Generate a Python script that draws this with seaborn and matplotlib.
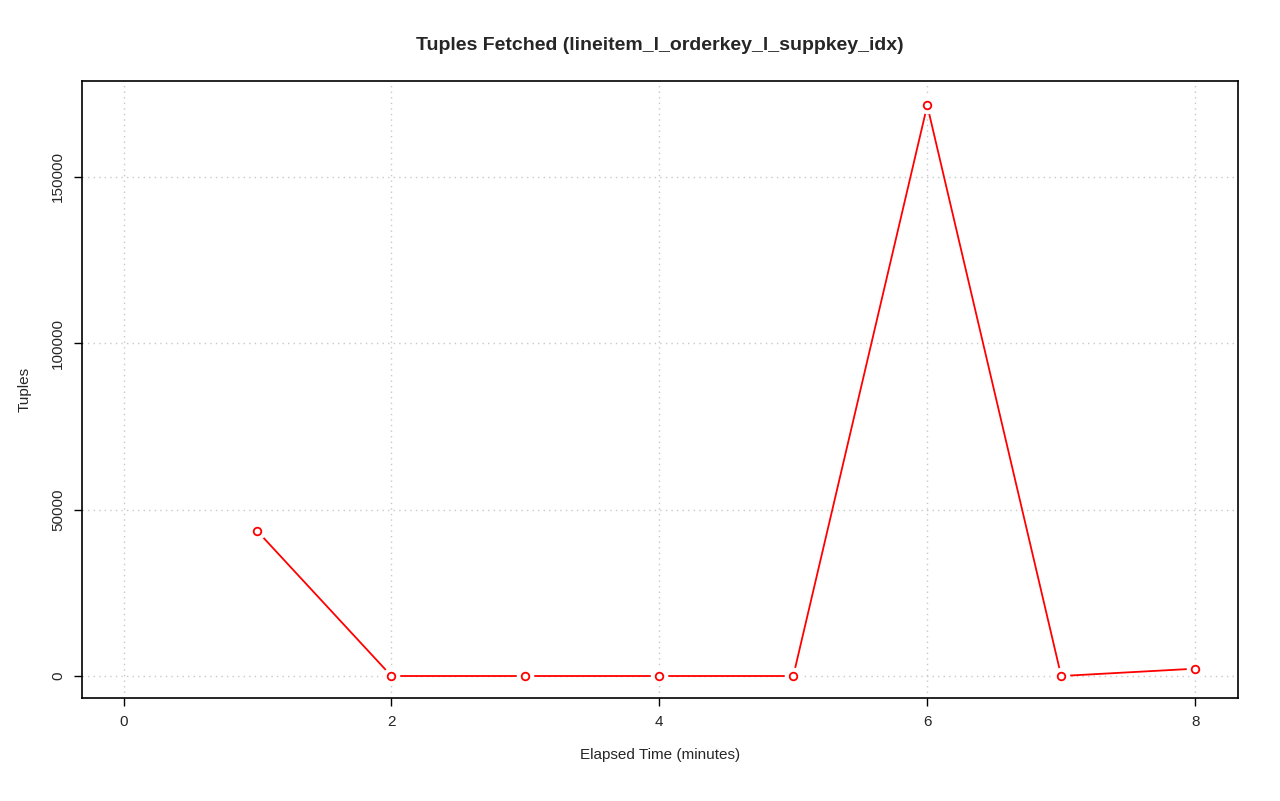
import matplotlib
matplotlib.use("Agg")
import matplotlib.pyplot as plt
import seaborn as sns
import pandas as pd

minutes = [1, 2, 3, 4, 5, 6, 7, 8]
tuples = [43500, 0, 0, 0, 0, 171500, 0, 2200]

sns.set_style("white")
plt.rcParams['font.family'] = ['Liberation Sans', 'DejaVu Sans']

df = pd.DataFrame({"minutes": minutes, "tuples": tuples})

fig = plt.figure(figsize=(12.8, 8.01), dpi=100)
ax = fig.add_axes([82/1280, 1 - 698/801, (1238-82)/1280, (698-81)/801])

sns.lineplot(data=df, x="minutes", y="tuples", ax=ax, color="red", linewidth=1.3, zorder=2)
# white halo to mimic R's type="b" gaps
ax.scatter(df["minutes"], df["tuples"], s=160, color="white", zorder=3, linewidths=0)
ax.scatter(df["minutes"], df["tuples"], s=30, facecolor="white", edgecolor="red", linewidths=1.3, zorder=4)

ax.set_xlim(-0.31, 8.32)
ax.set_ylim(-6612, 178850)
ax.set_xticks([0, 2, 4, 6, 8])
ax.set_yticks([0, 50000, 100000, 150000])
ax.set_yticklabels(["0", "50000", "100000", "150000"], rotation=90, va="center")
ax.grid(True, color="#c8c8c8", linestyle=(0, (1, 3)), linewidth=1)
ax.set_axisbelow(True)
for s in ax.spines.values():
    s.set_color("black")
    s.set_linewidth(1.2)
ax.tick_params(axis="both", direction="out", length=6, width=1, color="black", labelsize=11, pad=6, left=True, bottom=True)

ax.set_xlabel("Elapsed Time (minutes)", fontsize=11, labelpad=14)
ax.set_ylabel("Tuples", fontsize=11, labelpad=14)
ax.set_title("Tuples Fetched (lineitem_l_orderkey_l_suppkey_idx)", fontsize=14, fontweight="bold", pad=22)

fig.savefig("out.png", dpi=100)
